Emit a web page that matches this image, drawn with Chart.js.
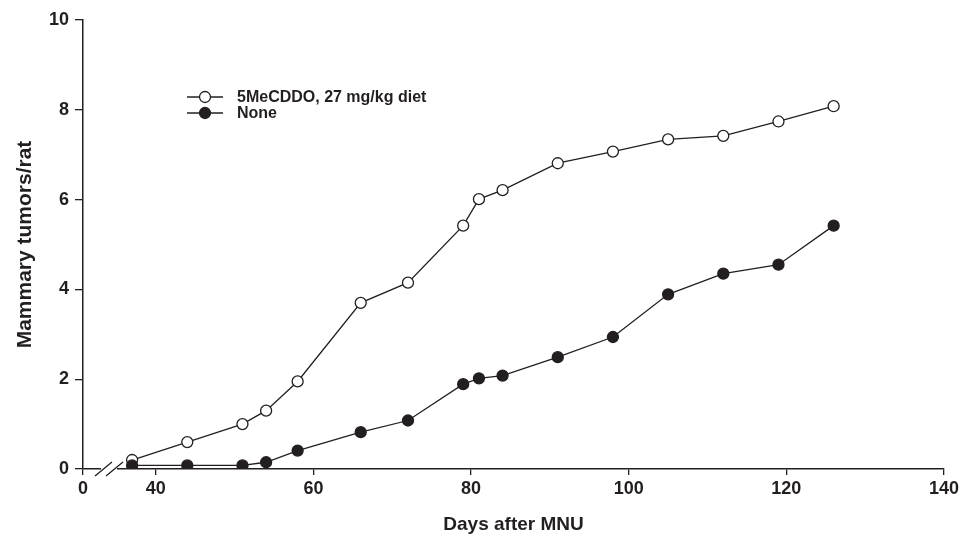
<!DOCTYPE html>
<html>
<head>
<meta charset="utf-8">
<script src="https://cdn.jsdelivr.net/npm/chart.js@4.4.1/dist/chart.umd.min.js"></script>
<style>
  body { margin: 0; background: #fff; }
  #wrap { width: 966px; height: 536px; }
</style>
</head>
<body>
<div id="wrap"><canvas id="tumorChart" width="966" height="536"></canvas></div>
<script>
// days after MNU
const days = [37, 44, 51, 54, 58, 66, 72, 79, 81, 84, 91, 98, 105, 112, 119, 126];
// mean mammary tumors per rat
const treated = [0.2, 0.6, 1.0, 1.3, 1.95, 3.7, 4.15, 5.42, 6.01, 6.21, 6.81, 7.07, 7.34, 7.42, 7.74, 8.08];
const control = [0.08, 0.08, 0.08, 0.15, 0.41, 0.82, 1.08, 1.89, 2.02, 2.08, 2.49, 2.94, 3.89, 4.35, 4.55, 5.42];
const seriesNames = ["5MeCDDO, 27 mg/kg diet", "None"];
const xTickValues = [40, 60, 80, 100, 120, 140];
const yTickValues = [0, 2, 4, 6, 8, 10];

// broken axis: the "0" label sits where day ~30.8 would be
const xStart = 30.77;
const ink = "#231f20";
const fontFam = "'Liberation Sans', Arial, sans-serif";

function toPoints(vals) {
  return days.map((d, i) => ({ x: d, y: vals[i] }));
}

const extras = {
  id: "extras",
  afterDraw(chart) {
    const ctx = chart.ctx;
    const y0 = chart.scales.y.getPixelForValue(0);
    ctx.save();
    // axis break
    ctx.fillStyle = "#fff";
    ctx.fillRect(101, y0 - 2, 16, 4);
    ctx.strokeStyle = ink;
    ctx.lineWidth = 1.3;
    ctx.beginPath();
    ctx.moveTo(95, y0 + 7);
    ctx.lineTo(112, y0 - 7);
    ctx.moveTo(106, y0 + 7);
    ctx.lineTo(123, y0 - 7);
    ctx.stroke();

    // legend
    const rows = [
      { label: seriesNames[0], fill: "#fff", y: 97 },
      { label: seriesNames[1], fill: ink, y: 113 }
    ];
    ctx.font = "bold 16px " + fontFam;
    ctx.textBaseline = "middle";
    rows.forEach(r => {
      ctx.strokeStyle = ink;
      ctx.lineWidth = 1.3;
      ctx.beginPath();
      ctx.moveTo(187, r.y);
      ctx.lineTo(223, r.y);
      ctx.stroke();
      ctx.beginPath();
      ctx.arc(205, r.y, 5.5, 0, Math.PI * 2);
      ctx.fillStyle = r.fill;
      ctx.fill();
      ctx.stroke();
      ctx.fillStyle = ink;
      ctx.fillText(r.label, 237, r.y + 1);
    });
    ctx.restore();
  }
};

const ctx = document.getElementById("tumorChart").getContext("2d");
new Chart(ctx, {
  type: "line",
  data: {
    datasets: [
      {
        label: seriesNames[0],
        data: toPoints(treated),
        borderColor: ink,
        borderWidth: 1.3,
        pointRadius: 5.5,
        pointBackgroundColor: "#fff",
        pointBorderColor: ink,
        pointBorderWidth: 1.3,
        tension: 0,
        order: 1
      },
      {
        label: seriesNames[1],
        data: toPoints(control),
        borderColor: ink,
        borderWidth: 1.3,
        pointRadius: 5.5,
        pointBackgroundColor: ink,
        pointBorderColor: ink,
        pointBorderWidth: 1.3,
        tension: 0,
        order: 0
      }
    ]
  },
  options: {
    responsive: false,
    animation: false,
    layout: { padding: { left: 0, right: 22, top: 20, bottom: 0 } },
    plugins: {
      legend: { display: false },
      tooltip: { enabled: false }
    },
    scales: {
      x: {
        type: "linear",
        min: xStart,
        max: 140,
        afterBuildTicks: (scale) => {
          scale.ticks = [xStart].concat(xTickValues).map(v => ({ value: v }));
        },
        afterFit: (scale) => { scale.height = 67; },
        ticks: {
          autoSkip: false,
          maxRotation: 0,
          color: ink,
          padding: 3,
          font: { family: fontFam, size: 18, weight: "bold" },
          callback: (v) => (v === xStart ? "0" : v)
        },
        grid: { drawOnChartArea: false, color: ink, lineWidth: 1.3, tickLength: 6 },
        border: { color: ink, width: 1.5 },
        title: {
          display: true,
          text: "Days after MNU",
          color: ink,
          font: { family: fontFam, size: 19, weight: "bold" },
          padding: { top: 8, bottom: 0 }
        }
      },
      y: {
        min: 0,
        max: 10,
        afterBuildTicks: (scale) => {
          scale.ticks = yTickValues.map(v => ({ value: v }));
        },
        afterFit: (scale) => { scale.width = 83; },
        ticks: {
          color: ink,
          padding: 6,
          font: { family: fontFam, size: 18, weight: "bold" }
        },
        grid: { drawOnChartArea: false, color: ink, lineWidth: 1.3, tickLength: 8 },
        border: { color: ink, width: 1.5 },
        title: {
          display: true,
          text: "Mammary tumors/rat",
          color: ink,
          font: { family: fontFam, size: 21, weight: "bold" },
          padding: { top: 13, bottom: 0 }
        }
      }
    }
  },
  plugins: [extras]
});
</script>
</body>
</html>
